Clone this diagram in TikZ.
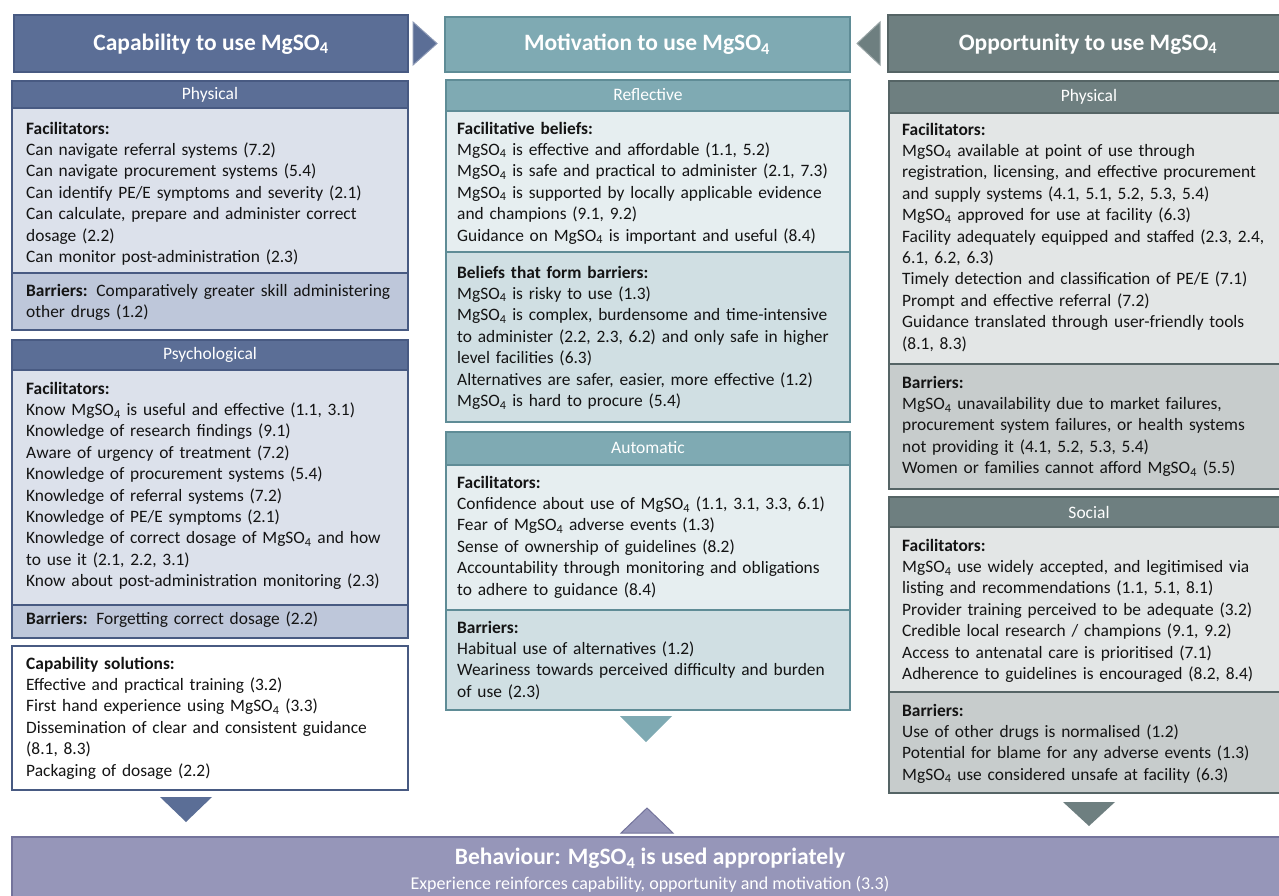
\documentclass[tikz,border=0pt]{standalone}
\usepackage{fontspec}
\setmainfont{Carlito}
\definecolor{capd}{RGB}{91,110,150}
\definecolor{capb}{RGB}{72,90,130}
\definecolor{capf}{RGB}{220,225,235}
\definecolor{capr}{RGB}{190,199,218}
\definecolor{motd}{RGB}{127,170,179}
\definecolor{motb}{RGB}{95,140,150}
\definecolor{motf}{RGB}{230,238,240}
\definecolor{motr}{RGB}{208,223,227}
\definecolor{oppd}{RGB}{110,127,128}
\definecolor{oppb}{RGB}{85,100,101}
\definecolor{oppf}{RGB}{227,230,230}
\definecolor{oppr}{RGB}{199,204,204}
\definecolor{behd}{RGB}{150,150,185}
\definecolor{behb}{RGB}{115,115,155}
\definecolor{txtc}{RGB}{20,20,20}
\newcommand\MgS{MgSO\textsubscript{4}}
\newcommand\bx[6]{\node[#6, anchor=north west, minimum width=#4-#2, minimum height=#5-#3] (#1) at (#2,#3) {};}
\tikzset{
  boxbase/.style={draw, line width=1.5pt, inner sep=0pt, outer sep=0pt, rectangle},
  txt/.style={anchor=base west, text width=#1, align=left, inner sep=0pt, text=txtc, font=\fontsize{17.4}{21.4}\selectfont},
  hdr/.style={font=\fontsize{23.5}{26}\selectfont\bfseries, text=white, inner sep=0pt},
  sub/.style={font=\fontsize{17.5}{20}\selectfont, text=white, inner sep=0pt},
  tri/.style={line width=1pt}
}
\begin{document}
\begin{tikzpicture}[x=1pt,y=-1pt]
\useasboundingbox (0,0) rectangle (1279,895);
% ---------- top headers ----------
\bx{caph}{14}{15}{408}{72}{boxbase, draw=capb, fill=capd}
\bx{moth}{445}{17}{850}{72}{boxbase, draw=motb, fill=motd}
\bx{opph}{888}{15}{1282}{72}{boxbase, draw=oppb, fill=oppd}
\node[hdr] (capht) at (211,44) {Capability to use \MgS};
\node[hdr] (motht) at (647,44) {Motivation to use \MgS};
\node[hdr] (oppht) at (1088,44) {Opportunity to use \MgS};
\fill[tri, fill=capd, draw=capd!70!white] (413,22) -- (437,43.5) -- (413,65) -- cycle;
\fill[tri, fill=oppd, draw=oppd!70!white] (880,22) -- (857,43.5) -- (880,65) -- cycle;
% ---------- left column ----------
\bx{cpf}{12}{108}{408}{273}{boxbase, draw=capb, fill=capf}
\bx{cpb}{12}{273}{408}{330}{boxbase, draw=capb, fill=capr}
\bx{cph}{12}{81}{408}{108}{boxbase, draw=capb, fill=capd}
\node[sub] (cpht) at (210,95) {Physical};
\node[txt=385] (cpft) at (26,134) {\textbf{Facilitators:}\\
Can navigate referral systems (7.2)\\
Can navigate procurement systems (5.4)\\
Can identify PE/E symptoms and severity (2.1)\\
Can calculate, prepare and administer correct\\
dosage (2.2)\\
Can monitor post-administration (2.3)};
\node[txt=385] (cpbt) at (26,296) {\textbf{Barriers:} Comparatively greater skill administering\\
other drugs (1.2)};
\bx{cyf}{12}{370}{408}{605}{boxbase, draw=capb, fill=capf}
\bx{cyb}{12}{605}{408}{638}{boxbase, draw=capb, fill=capr}
\bx{cyh}{12}{340}{408}{370}{boxbase, draw=capb, fill=capd}
\node[sub] (cyht) at (210,355) {Psychological};
\node[txt=385] (cyft) at (26,394) {\textbf{Facilitators:}\\
Know \MgS\ is useful and effective (1.1, 3.1)\\
Knowledge of research findings (9.1)\\
Aware of urgency of treatment (7.2)\\
Knowledge of procurement systems (5.4)\\
Knowledge of referral systems (7.2)\\
Knowledge of PE/E symptoms (2.1)\\
Knowledge of correct dosage of \MgS\ and how\\
to use it (2.1, 2.2, 3.1)\\
Know about post-administration monitoring (2.3)};
\node[txt=385] (cybt) at (26,624) {\textbf{Barriers:} Forgetting correct dosage (2.2)};
\bx{csol}{12}{646}{408}{790}{boxbase, draw=capb, fill=white}
\node[txt=385] (csolt) at (26,669) {\textbf{Capability solutions:}\\
Effective and practical training (3.2)\\
First hand experience using \MgS\ (3.3)\\
Dissemination of clear and consistent guidance\\
(8.1, 8.3)\\
Packaging of dosage (2.2)};
\fill[tri, fill=capd] (160,797) -- (212,797) -- (186,822) -- cycle;
% ---------- middle column ----------
\bx{mrf}{446}{111}{850}{252}{boxbase, draw=motb, fill=motf}
\bx{mrb}{446}{252}{850}{422}{boxbase, draw=motb, fill=motr}
\bx{mrh}{446}{80}{850}{111}{boxbase, draw=motb, fill=motd}
\node[sub] (mrht) at (648,95) {Reflective};
\node[txt=395] (mrft) at (457,134) {\textbf{Facilitative beliefs:}\\
\MgS\ is effective and affordable (1.1, 5.2)\\
\MgS\ is safe and practical to administer (2.1, 7.3)\\
\MgS\ is supported by locally applicable evidence\\
and champions (9.1, 9.2)\\
Guidance on \MgS\ is important and useful (8.4)};
\node[txt=395] (mrbt) at (457,278) {\textbf{Beliefs that form barriers:}\\
\MgS\ is risky to use (1.3)\\
\MgS\ is complex, burdensome and time-intensive\\
to administer (2.2, 2.3, 6.2) and only safe in higher\\
level facilities (6.3)\\
Alternatives are safer, easier, more effective (1.2)\\
\MgS\ is hard to procure (5.4)};
\bx{maf}{446}{465}{850}{610}{boxbase, draw=motb, fill=motf}
\bx{mab}{446}{610}{850}{710}{boxbase, draw=motb, fill=motr}
\bx{mah}{446}{432}{850}{465}{boxbase, draw=motb, fill=motd}
\node[sub] (maht) at (648,448) {Automatic};
\node[txt=395] (maft) at (457,488) {\textbf{Facilitators:}\\
Confidence about use of \MgS\ (1.1, 3.1, 3.3, 6.1)\\
Fear of \MgS\ adverse events (1.3)\\
Sense of ownership of guidelines (8.2)\\
Accountability through monitoring and obligations\\
to adhere to guidance (8.4)};
\node[txt=395] (mabt) at (457,633) {\textbf{Barriers:}\\
Habitual use of alternatives (1.2)\\
Weariness towards perceived difficulty and burden\\
of use (2.3)};
\fill[tri, fill=motd] (620,716) -- (672,716) -- (646,742) -- cycle;
% ---------- right column ----------
\bx{opf}{889}{113}{1282}{364}{boxbase, draw=oppb, fill=oppf}
\bx{opb}{889}{364}{1282}{489}{boxbase, draw=oppb, fill=oppr}
\bx{oph}{889}{81}{1282}{113}{boxbase, draw=oppb, fill=oppd}
\node[sub] (opht) at (1089,97) {Physical};
\node[txt=380] (opft) at (902,135) {\textbf{Facilitators:}\\
\MgS\ available at point of use through\\
registration, licensing, and effective procurement\\
and supply systems (4.1, 5.1, 5.2, 5.3, 5.4)\\
\MgS\ approved for use at facility (6.3)\\
Facility adequately equipped and staffed (2.3, 2.4,\\
6.1, 6.2, 6.3)\\
Timely detection and classification of PE/E (7.1)\\
Prompt and effective referral (7.2)\\
Guidance translated through user-friendly tools\\
(8.1, 8.3)};
\node[txt=380] (opbt) at (902,388) {\textbf{Barriers:}\\
\MgS\ unavailability due to market failures,\\
procurement system failures, or health systems\\
not providing it (4.1, 5.2, 5.3, 5.4)\\
Women or families cannot afford \MgS\ (5.5)};
\bx{osf}{889}{527}{1282}{692}{boxbase, draw=oppb, fill=oppf}
\bx{osb}{889}{692}{1282}{793}{boxbase, draw=oppb, fill=oppr}
\bx{osh}{889}{497}{1282}{527}{boxbase, draw=oppb, fill=oppd}
\node[sub] (osht) at (1089,512) {Social};
\node[txt=380] (osft) at (902,551) {\textbf{Facilitators:}\\
\MgS\ use widely accepted, and legitimised via\\
listing and recommendations (1.1, 5.1, 8.1)\\
Provider training perceived to be adequate (3.2)\\
Credible local research / champions (9.1, 9.2)\\
Access to antenatal care is prioritised (7.1)\\
Adherence to guidelines is encouraged (8.2, 8.4)};
\node[txt=380] (osbt) at (902,716) {\textbf{Barriers:}\\
Use of other drugs is normalised (1.2)\\
Potential for blame for any adverse events (1.3)\\
\MgS\ use considered unsafe at facility (6.3)};
\fill[tri, fill=oppd] (1063,802) -- (1115,802) -- (1089,826) -- cycle;
% ---------- bottom ----------
\fill[tri, fill=behd, draw=behb] (621,833) -- (673,833) -- (647,808) -- cycle;
\bx{beh}{12}{837}{1282}{905}{boxbase, draw=behb, fill=behd}
\node[hdr, font=\fontsize{23.5}{26}\selectfont\bfseries] (beht) at (650,858) {Behaviour: \MgS\ is used appropriately};
\node[sub, font=\fontsize{18}{20}\selectfont] (behs) at (650,884) {Experience reinforces capability, opportunity and motivation (3.3)};
\end{tikzpicture}
\end{document}
